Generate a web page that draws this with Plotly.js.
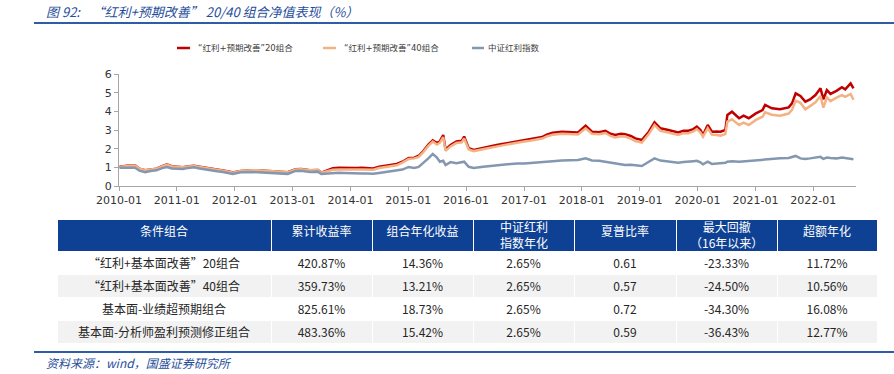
<!DOCTYPE html>
<html>
<head>
<meta charset="utf-8">
<script src="https://cdn.plot.ly/plotly-3.0.1.min.js"></script>
<style>html,body{margin:0;padding:0;background:#fff;}#chart{width:894px;height:374px;}</style>
</head>
<body>
<div id="chart"></div>
<script>
// ---- data ----
const dates = ["2010-01-04","2010-02-08","2010-03-15","2010-04-12","2010-05-10","2010-06-15","2010-07-20","2010-08-25","2010-10-01","2010-10-30","2010-12-01","2011-01-04","2011-02-08","2011-03-15","2011-04-20","2011-05-25","2011-07-01","2011-08-08","2011-09-12","2011-10-20","2011-11-25","2011-12-20","2012-02-08","2012-03-15","2012-04-20","2012-05-25","2012-07-20","2012-09-12","2012-10-20","2012-12-01","2013-01-20","2013-02-25","2013-04-20","2013-06-10","2013-07-01","2013-08-08","2013-09-12","2013-10-20","2013-11-25","2014-01-04","2014-02-08","2014-03-15","2014-04-20","2014-05-25","2014-07-01","2014-08-08","2014-09-12","2014-10-20","2014-11-25","2015-01-04","2015-02-08","2015-03-08","2015-04-05","2015-05-08","2015-06-05","2015-07-01","2015-07-20","2015-08-10","2015-08-25","2015-09-25","2015-11-01","2015-12-05","2015-12-20","2016-01-18","2016-02-18","2016-04-18","2016-06-12","2016-07-12","2016-08-25","2016-10-05","2016-11-18","2017-01-03","2017-02-08","2017-03-25","2017-04-25","2017-05-25","2017-07-01","2017-08-28","2017-10-18","2017-12-08","2018-01-25","2018-03-06","2018-04-20","2018-05-30","2018-07-01","2018-07-30","2018-09-05","2018-10-01","2018-11-06","2018-12-05","2019-01-15","2019-02-28","2019-04-05","2019-05-12","2019-07-01","2019-08-08","2019-09-01","2019-10-05","2019-11-06","2019-12-06","2019-12-28","2020-01-20","2020-02-05","2020-03-06","2020-04-01","2020-05-01","2020-05-25","2020-06-25","2020-07-08","2020-08-06","2020-09-20","2020-10-18","2020-11-20","2021-01-04","2021-02-15","2021-03-03","2021-04-15","2021-06-05","2021-07-30","2021-08-20","2021-09-12","2021-10-12","2021-11-12","2021-12-12","2022-01-15","2022-02-16","2022-03-06","2022-03-28","2022-04-20","2022-05-28","2022-07-01","2022-07-22","2022-08-25","2022-09-12"];

const red20 = [1.03,1.08,1.11,1.11,0.93,0.85,0.89,0.93,1.06,1.16,1.06,1.03,1.01,1.06,1.08,1.03,0.97,0.94,0.87,0.83,0.78,0.72,0.81,0.84,0.85,0.85,0.81,0.79,0.77,0.74,0.90,0.91,0.85,0.86,0.72,0.82,0.95,0.98,0.97,0.93,0.96,0.98,0.96,0.94,1.03,1.09,1.13,1.18,1.30,1.50,1.52,1.62,1.86,2.22,2.45,2.30,2.40,2.73,1.95,2.20,2.38,2.42,2.65,2.03,1.93,2.05,2.12,2.20,2.26,2.32,2.40,2.46,2.50,2.55,2.62,2.75,2.85,2.91,2.90,2.87,3.23,2.91,2.88,2.96,2.80,2.73,2.80,2.78,2.68,2.55,2.46,2.91,3.41,3.09,3.00,2.92,2.87,2.96,2.96,3.05,3.18,3.00,2.73,3.27,2.91,2.92,2.91,3.00,3.80,3.98,3.63,3.77,3.63,3.89,4.07,4.34,4.16,4.11,4.21,4.43,4.96,4.82,4.52,4.64,4.87,5.23,4.64,5.14,4.93,5.10,5.29,5.18,5.50,5.23];

const orange40 = [1.02,1.07,1.10,1.10,0.92,0.84,0.88,0.92,1.05,1.15,1.05,1.02,1.00,1.05,1.07,1.02,0.96,0.93,0.86,0.82,0.77,0.71,0.80,0.83,0.84,0.84,0.80,0.78,0.76,0.73,0.89,0.90,0.84,0.85,0.71,0.78,0.87,0.89,0.88,0.86,0.88,0.89,0.88,0.87,0.96,1.02,1.06,1.11,1.25,1.45,1.48,1.56,1.80,2.15,2.38,2.22,2.32,2.62,1.88,2.12,2.30,2.34,2.55,1.96,1.87,1.98,2.05,2.13,2.19,2.25,2.33,2.38,2.42,2.47,2.54,2.66,2.74,2.80,2.80,2.76,3.09,2.80,2.77,2.84,2.68,2.60,2.67,2.65,2.54,2.41,2.33,2.78,3.27,2.96,2.86,2.78,2.74,2.83,2.83,2.92,3.05,2.86,2.64,3.10,2.75,2.73,2.70,2.78,3.45,3.57,3.27,3.40,3.27,3.54,3.71,3.95,3.82,3.77,3.88,4.08,4.57,4.46,4.11,4.28,4.48,4.82,4.20,4.75,4.55,4.73,4.87,4.78,4.93,4.62];

const csiDividend = [0.98,0.97,0.99,0.98,0.82,0.74,0.80,0.84,0.96,1.02,0.94,0.93,0.91,0.97,1.00,0.94,0.88,0.85,0.79,0.75,0.70,0.64,0.73,0.75,0.75,0.74,0.71,0.70,0.68,0.65,0.81,0.82,0.75,0.77,0.64,0.67,0.70,0.71,0.70,0.68,0.68,0.67,0.67,0.66,0.70,0.74,0.78,0.82,0.88,1.02,0.97,1.02,1.21,1.48,1.72,1.52,1.30,1.35,1.12,1.28,1.22,1.28,1.30,1.03,0.96,1.03,1.08,1.12,1.16,1.20,1.21,1.21,1.24,1.27,1.28,1.30,1.33,1.36,1.38,1.39,1.48,1.37,1.35,1.30,1.26,1.21,1.18,1.12,1.14,1.12,1.07,1.30,1.48,1.36,1.30,1.27,1.25,1.28,1.29,1.33,1.35,1.27,1.16,1.30,1.18,1.20,1.20,1.24,1.30,1.33,1.30,1.32,1.34,1.39,1.42,1.44,1.45,1.48,1.50,1.55,1.61,1.48,1.45,1.48,1.52,1.56,1.45,1.52,1.50,1.48,1.52,1.50,1.48,1.43];

const seriesNames = ["“红利+预期改善”20组合", "“红利+预期改善”40组合", "中证红利指数"];

const tableHeader = ["条件组合", "累计收益率", "组合年化收益", "中证红利<br>指数年化", "夏普比率", "最大回撤<br>（16年以来）", "超额年化"];
const tableRows = ["“红利+基本面改善”20组合", "“红利+基本面改善”40组合", "基本面-业绩超预期组合", "基本面-分析师盈利预测修正组合"];
const cumReturn = ["420.87%", "359.73%", "825.61%", "483.36%"];
const annReturn = ["14.36%", "13.21%", "18.73%", "15.42%"];
const indexAnn = ["2.65%", "2.65%", "2.65%", "2.65%"];
const sharpe = ["0.61", "0.57", "0.72", "0.59"];
const maxDD = ["-23.33%", "-24.50%", "-34.30%", "-36.43%"];
const excessAnn = ["11.72%", "10.56%", "16.08%", "12.77%"];

// ---- layout helpers ----
const W = 894, H = 374;
const px = x => x / W;
const py = y => 1 - y / H;

const colors = ["#C00000", "#F4B183", "#8497B0"];
const cjk = "'Noto Sans CJK SC', 'DejaVu Sans', sans-serif";
const legFont = "'DejaVu Sans', 'Noto Sans CJK SC', sans-serif";
const numFont = "'DejaVu Sans', 'Noto Sans CJK SC', sans-serif";
const blueTxt = "#1F4E9B";

const traces = [
  {type: "scatter", mode: "lines", x: dates, y: red20, name: seriesNames[0], line: {color: colors[0], width: 2.5}},
  {type: "scatter", mode: "lines", x: dates, y: orange40, name: seriesNames[1], line: {color: colors[1], width: 2.5}},
  {type: "scatter", mode: "lines", x: dates, y: csiDividend, name: seriesNames[2], line: {color: colors[2], width: 2.5}}
];

// table geometry (pixels)
const tblLeft = 57, tblRight = 877, tblTop = 219, hdrH = 32, rowH = 23;
const colW = [214, 101, 101, 101, 102, 101, 100];

const rowFill = ["#FFFFFF", "#F2F2F2", "#FFFFFF", "#F2F2F2"];
// two-line headers are drawn as overlaid annotations (native table header would grow too tall)
const headerCells = tableHeader.map(h => h.indexOf("<br>") >= 0 ? "" : h);
traces.push({
  type: "table",
  domain: {x: [px(tblLeft), px(tblRight)], y: [py(360), py(tblTop)]},
  columnwidth: colW,
  header: {
    values: headerCells,
    align: "center",
    height: hdrH,
    fill: {color: "#0E4194"},
    line: {color: "#FFFFFF", width: 1},
    font: {family: cjk, size: 12, color: "#FFFFFF"}
  },
  cells: {
    values: [tableRows, cumReturn, annReturn, indexAnn, sharpe, maxDD, excessAnn],
    align: "center",
    height: rowH,
    fill: {color: [rowFill, rowFill, rowFill, rowFill, rowFill, rowFill, rowFill]},
    line: {color: "#FFFFFF", width: 1},
    font: {family: cjk, size: 12, color: "#262626"}
  }
});

const shapes = [
  {type: "line", xref: "paper", yref: "paper", x0: px(34), x1: px(894), y0: py(23), y1: py(23), line: {color: "#2E5DA8", width: 2}},
  {type: "line", xref: "paper", yref: "paper", x0: px(34), x1: px(894), y0: py(352), y1: py(352), line: {color: "#2E5DA8", width: 2}}
];
const legendPos = [[177, 190, 196], [323, 336, 342], [472, 484, 486]];
const annotations = [
  {xref: "paper", yref: "paper", x: px(44), y: py(11), xanchor: "left", yanchor: "middle", showarrow: false,
   text: "图 92:\u00A0\u00A0\u00A0\u00A0“红利+预期改善” 20/40 组合净值表现（%）",
   font: {family: cjk, size: 13, color: blueTxt, style: "italic"}},
  {xref: "paper", yref: "paper", x: px(44), y: py(362), xanchor: "left", yanchor: "middle", showarrow: false,
   text: "资料来源：wind，国盛证券研究所",
   font: {family: cjk, size: 12, color: blueTxt, style: "italic"}}
];
legendPos.forEach((p, i) => {
  shapes.push({type: "line", xref: "paper", yref: "paper", x0: px(p[0]), x1: px(p[1]), y0: py(48), y1: py(48), line: {color: colors[i], width: 2.5}});
  annotations.push({xref: "paper", yref: "paper", x: px(p[2]), y: py(48), xanchor: "left", yanchor: "middle", showarrow: false,
    text: seriesNames[i], font: {family: legFont, size: 8.5, color: "#404040"}});
});
// overlay the two-line header texts
let cx = tblLeft;
colW.forEach((w, i) => {
  if (tableHeader[i].indexOf("<br>") >= 0) {
    annotations.push({xref: "paper", yref: "paper", x: px(cx + w / 2), y: py(tblTop + hdrH / 2), xanchor: "center", yanchor: "middle",
      showarrow: false, text: tableHeader[i], font: {family: cjk, size: 12, color: "#FFFFFF"}});
  }
  cx += w;
});

const layout = {
  width: W, height: H, autosize: false,
  margin: {l: 0, r: 0, t: 0, b: 0, pad: 0},
  paper_bgcolor: "#FFFFFF", plot_bgcolor: "#FFFFFF",
  showlegend: false,
  xaxis: {
    type: "date", domain: [px(119), px(856)],
    range: ["2010-01-01", "2022-09-28"],
    tick0: "2010-01-01", dtick: "M12", tickformat: "%Y-%m",
    ticks: "outside", ticklen: 4, tickcolor: "#A6A6A6",
    showline: true, linecolor: "#A6A6A6", linewidth: 1,
    showgrid: false, zeroline: false,
    tickfont: {family: numFont, size: 11, color: "#333333"}
  },
  yaxis: {
    domain: [py(186), py(74)],
    range: [0, 6], dtick: 1, tick0: 0,
    ticks: "outside", ticklen: 4, tickcolor: "#A6A6A6",
    showline: true, linecolor: "#A6A6A6", linewidth: 1,
    showgrid: false, zeroline: false,
    tickfont: {family: numFont, size: 11, color: "#333333"}
  },
  shapes: shapes,
  annotations: annotations
};

Plotly.newPlot("chart", traces, layout, {displayModeBar: false, staticPlot: true});
</script>
</body>
</html>
